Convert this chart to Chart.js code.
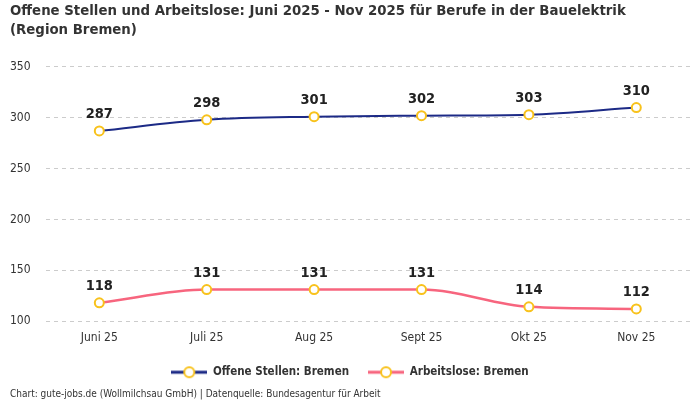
<!DOCTYPE html>
<html>
<head>
<meta charset="utf-8">
<script src="https://cdn.jsdelivr.net/npm/chart.js@4"></script>
<style>
  html, body { margin: 0; padding: 0; background: #fff; }
  #wrap { width: 700px; height: 400px; position: relative; }
</style>
</head>
<body>
<div id="wrap"><canvas id="chart"></canvas></div>
<script>
// chart data
const months = ['Juni 25', 'Juli 25', 'Aug 25', 'Sept 25', 'Okt 25', 'Nov 25'];
const offeneStellen = [287, 298, 301, 302, 303, 310];
const arbeitslose = [118, 131, 131, 131, 114, 112];
const yTicks = [100, 150, 200, 250, 300, 350];

const FONT = '"DejaVu Sans Condensed", "Liberation Sans Narrow", sans-serif';
const BLUE = '#1c2a86';
const PINK = '#f7657e';
const YELLOW = '#f8c21c';

// small legend icon: line with a ring in the middle
function legendIcon(color) {
    const c = document.createElement('canvas');
    c.width = 36; c.height = 14;
    const g = c.getContext('2d');
    g.strokeStyle = color;
    g.lineWidth = 3;
    g.beginPath(); g.moveTo(0, 7); g.lineTo(36, 7); g.stroke();
    g.fillStyle = '#fff';
    g.strokeStyle = YELLOW;
    g.lineWidth = 2;
    g.beginPath(); g.arc(18, 7, 5, 0, Math.PI * 2); g.fill(); g.stroke();
    return c;
}

// values above each point
const valueLabels = {
    id: 'valueLabels',
    afterDatasetsDraw(chart) {
        const ctx = chart.ctx;
        ctx.save();
        ctx.font = 'bold 14.5px ' + FONT;
        ctx.fillStyle = '#222';
        ctx.textAlign = 'center';
        ctx.textBaseline = 'bottom';
        chart.data.datasets.forEach((ds, i) => {
            chart.getDatasetMeta(i).data.forEach((pt, j) => {
                ctx.fillText(ds.data[j], pt.x, pt.y - 9);
            });
        });
        ctx.restore();
    }
};

const ctx = document.getElementById('chart').getContext('2d');
new Chart(ctx, {
    type: 'line',
    data: {
        labels: months,
        datasets: [
            {
                label: 'Offene Stellen: Bremen',
                data: offeneStellen,
                borderColor: BLUE,
                borderWidth: 2,
                cubicInterpolationMode: 'monotone',
                pointRadius: 4.5,
                pointBorderWidth: 2,
                pointBackgroundColor: '#fff',
                pointBorderColor: YELLOW,
                pointStyle: 'circle'
            },
            {
                label: 'Arbeitslose: Bremen',
                data: arbeitslose,
                borderColor: PINK,
                borderWidth: 2.5,
                cubicInterpolationMode: 'monotone',
                pointRadius: 4.5,
                pointBorderWidth: 2,
                pointBackgroundColor: '#fff',
                pointBorderColor: YELLOW,
                pointStyle: 'circle'
            }
        ]
    },
    options: {
        responsive: true,
        maintainAspectRatio: false,
        animation: false,
        layout: { padding: { left: 10, right: 10, top: 0, bottom: 0 } },
        plugins: {
            title: {
                display: true,
                text: ['Offene Stellen und Arbeitslose: Juni 2025 - Nov 2025 für Berufe in der Bauelektrik', '(Region Bremen)'],
                align: 'start',
                color: '#333',
                font: { family: FONT, size: 14.8, weight: 'bold', lineHeight: 1.28 },
                padding: { top: 2, bottom: 27 }
            },
            subtitle: {
                display: true,
                position: 'bottom',
                align: 'start',
                text: 'Chart: gute-jobs.de (Wollmilchsau GmbH) | Datenquelle: Bundesagentur für Arbeit',
                color: '#333',
                font: { family: FONT, size: 10 },
                padding: { top: 0, bottom: 0 }
            },
            legend: {
                position: 'bottom',
                labels: {
                    usePointStyle: true,
                    pointStyleWidth: 36,
                    boxHeight: 13,
                    color: '#333',
                    font: { family: FONT, size: 11.5, weight: 'bold' },
                    padding: 19,
                    generateLabels(chart) {
                        return chart.data.datasets.map((ds, i) => ({
                            text: ds.label,
                            fontColor: '#333',
                            pointStyle: legendIcon(ds.borderColor),
                            datasetIndex: i,
                            hidden: false,
                            lineWidth: 0
                        }));
                    }
                }
            },
            tooltip: { enabled: false }
        },
        scales: {
            x: {
                offset: true,
                grid: { display: false },
                border: { display: false },
                ticks: { color: '#333', font: { family: FONT, size: 12 }, padding: 2 }
            },
            y: {
                min: 100,
                max: 350,
                afterBuildTicks(axis) {
                    axis.ticks = yTicks.map(v => ({ value: v }));
                },
                grid: { color: '#cccccc', drawTicks: false },
                border: { display: false, dash: [4, 4] },
                ticks: { color: '#333', font: { family: FONT, size: 12 }, padding: 7.5, crossAlign: 'far' }
            }
        }
    },
    plugins: [valueLabels]
});
</script>
</body>
</html>
